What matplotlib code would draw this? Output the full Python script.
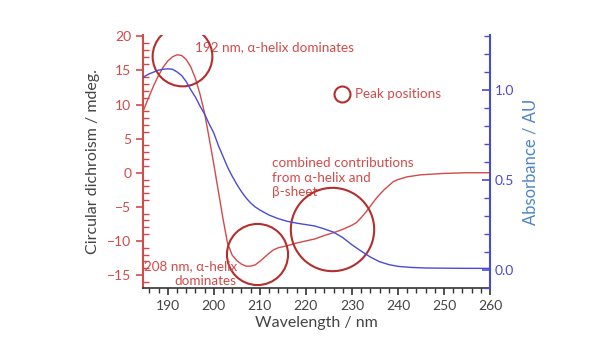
import matplotlib.pyplot as plt
import numpy as np
from matplotlib.ticker import MultipleLocator

# CD spectrum (mdeg)
cd_nm = [184.6, 186, 187, 188, 189, 190, 191, 192, 193, 194, 195, 196, 197, 198, 199,
         200, 201, 202, 203, 204, 205, 206, 207, 208, 209, 210, 211, 212, 213, 214,
         216, 218, 220, 222, 224, 226, 228, 230, 231, 232, 233, 234, 235, 236, 237,
         238, 239, 240, 242, 245, 250, 255, 260]
cd_val = [9.0, 11.3, 12.9, 14.3, 15.5, 16.4, 17.0, 17.3, 17.2, 16.6, 15.5, 13.8, 11.5, 8.7, 5.0,
          1.2, -2.8, -6.8, -10.4, -12.1, -12.9, -13.4, -13.7, -13.7, -13.5, -13.0, -12.4, -11.8, -11.3, -11.0,
          -10.7, -10.3, -10.0, -9.7, -9.2, -8.8, -8.3, -7.7, -7.3, -6.6, -5.8, -4.9, -4.0, -3.2, -2.5,
          -1.9, -1.3, -1.0, -0.6, -0.3, -0.1, 0.0, 0.0]

# absorbance (AU)
ab_nm = [184.6, 186, 188, 189, 190, 191, 192, 193, 194, 195, 196, 197, 198, 199, 200,
         201, 202, 203, 204, 205, 206, 207, 208, 209, 210, 212, 214, 216, 218, 220,
         222, 224, 226, 228, 230, 232, 234, 236, 238, 240, 243, 246, 250, 255, 260]
ab_val = [1.07, 1.09, 1.11, 1.115, 1.117, 1.115, 1.10, 1.08, 1.046, 1.00, 0.96, 0.91, 0.865, 0.81, 0.76,
          0.69, 0.63, 0.57, 0.52, 0.475, 0.435, 0.40, 0.372, 0.35, 0.333, 0.305, 0.285, 0.27, 0.26, 0.252,
          0.244, 0.228, 0.21, 0.18, 0.14, 0.105, 0.072, 0.046, 0.03, 0.02, 0.014, 0.011, 0.01, 0.009, 0.009]

# annotation circles: (nm, mdeg, diameter in pt)
circles = [(193.0, 17.05, 43), (209.3, -11.85, 44), (225.6, -8.2, 60), (227.9, 11.5, 11.5)]

red = "#d24a4a"
dred = "#b52e2e"
blue = "#4a4ad8"
grey = "#444444"
plt.rcParams['font.family'] = ['Lato', 'DejaVu Sans']

fig = plt.figure(figsize=(6.15, 3.4), dpi=100)
ax = fig.add_axes([0.2325, 0.153, 0.5642, 0.744])
ax2 = ax.twinx()

ax.plot(cd_nm, cd_val, color=red, lw=1.0, zorder=3)
ax2.plot(ab_nm, ab_val, color=blue, lw=1.0)

for x, y, d in circles:
    ax.plot([x], [y], marker='o', ms=d, mfc='none', mec=dred, mew=1.5, zorder=4)

ax.set_xlim(184.6, 260)
ax.set_ylim(-16.9, 20.2)
ax2.set_ylim(-0.1, 1.305)

ax.xaxis.set_major_locator(MultipleLocator(10))
ax.xaxis.set_minor_locator(MultipleLocator(2))
ax.yaxis.set_major_locator(MultipleLocator(5))
ax.yaxis.set_minor_locator(MultipleLocator(1))
ax2.yaxis.set_major_locator(MultipleLocator(0.5))
ax2.yaxis.set_minor_locator(MultipleLocator(0.1))

ax.spines['top'].set_visible(False)
ax2.spines['top'].set_visible(False)
ax2.spines['left'].set_visible(False)
ax2.spines['bottom'].set_visible(False)
ax.spines['right'].set_visible(False)
ax.spines['left'].set_color(red)
ax.spines['left'].set_linewidth(1.5)
ax.spines['bottom'].set_color("#333333")
ax.spines['bottom'].set_linewidth(1.2)
ax2.spines['right'].set_color(blue)
ax2.spines['right'].set_linewidth(1.5)

ax.tick_params(axis='y', which='major', colors=red, direction='out', length=5, width=1.2, labelsize=10)
ax.tick_params(axis='y', which='minor', color=red, direction='in', length=4, width=1)
ax.tick_params(axis='x', which='major', color="#333333", labelcolor=grey, direction='out', length=5, width=1.2, labelsize=10)
ax.tick_params(axis='x', which='minor', color="#333333", direction='out', length=3.5, width=1)
ax2.tick_params(axis='y', which='major', colors=blue, direction='in', length=6, width=1.2, labelsize=10)
ax2.tick_params(axis='y', which='minor', color=blue, direction='in', length=4, width=1)

ax.set_xlabel("Wavelength / nm", color=grey, fontsize=11.5, labelpad=3)
ax.set_ylabel("Circular dichroism / mdeg.", color=grey, fontsize=11.5, labelpad=5)
ax2.set_ylabel("Absorbance / AU", color="#4f84c4", fontsize=12, labelpad=6)

fs = 9.7
ax.text(195.9, 18.4, "192 nm, \u03b1-helix dominates", color=red, fontsize=fs, va='center', ha='left')
ax.text(230.6, 11.5, "Peak positions", color=red, fontsize=fs, va='center', ha='left')
ax.text(212.7, 2.3, "combined contributions\nfrom \u03b1-helix and\n\u03b2-sheet", color=red, fontsize=fs,
        va='top', ha='left', linespacing=1.25)
ax.text(205.0, -14.8, "208 nm, \u03b1-helix\ndominates", color=red, fontsize=fs,
        va='center', ha='right', linespacing=1.25, zorder=5)

fig.savefig("out.png", dpi=100)
